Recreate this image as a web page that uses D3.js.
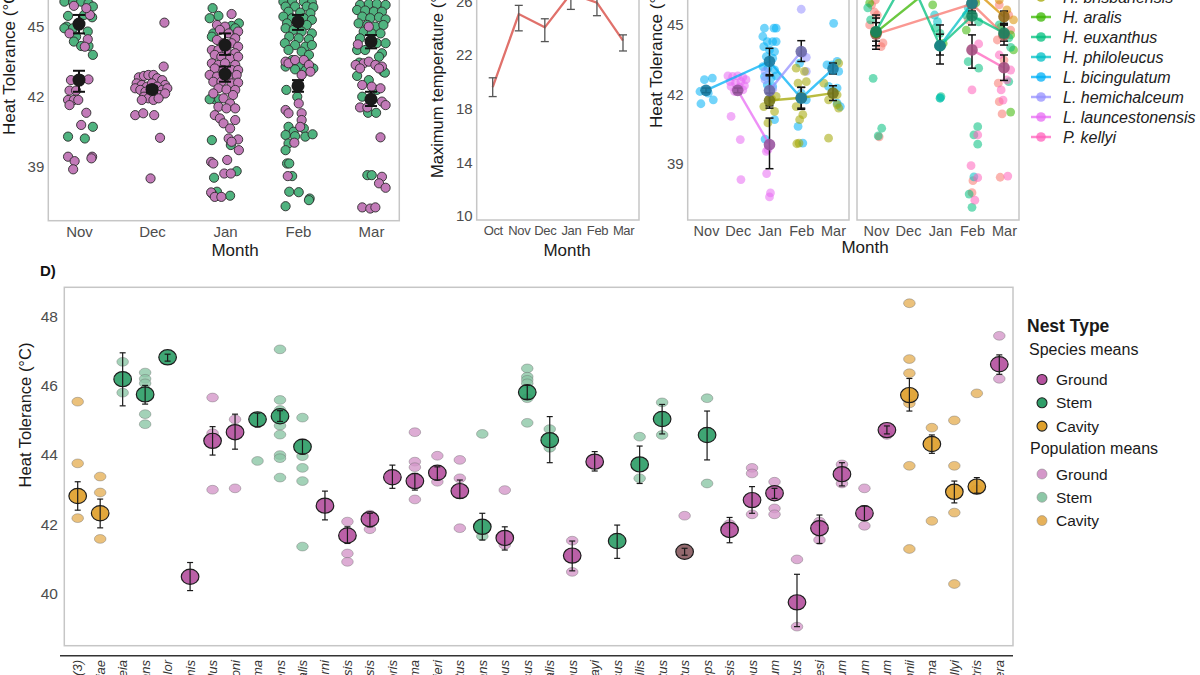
<!DOCTYPE html>
<html>
<head>
<meta charset="utf-8">
<title>Bee heat tolerance</title>
<script src="https://cdn.jsdelivr.net/npm/d3@7"></script>
<style>
  body { margin: 0; background: #fff; }
  svg { display: block; font-family: "Liberation Sans", Arial, sans-serif; }
  .tick text { fill: #4d4d4d; }
</style>
</head>
<body>
<svg id="fig" width="1200" height="675"></svg>
<script>
// ---------- Panel A : heat tolerance by month, stem vs ground ----------
const aMonths = ["Nov", "Dec", "Jan", "Feb", "Mar"];
// [jitter (fraction of month step), heat tolerance]
const stemNov = [[-0.20,46.07],[-0.08,46.03],[0.03,46.07],[0.13,46.0],[0.19,45.86],[-0.15,45.46],[0.07,45.5],[0.18,45.4],[-0.17,45.0],[-0.2,44.93],[-0.08,44.93],[0.12,44.79],[-0.04,44.57],[-0.07,44.36],[0.03,44.17],[0.13,44.17],[0.19,43.79],[-0.15,40.29],[0.08,40.21],[0.19,40.71]];
const stemJan = [[-0.17,45.79],[-0.09,45.46],[-0.21,45.36],[0.19,45.14],[0.09,45.03],[0.14,44.93],[-0.16,44.71],[-0.18,44.57],[0.14,44.64],[-0.14,41.89],[-0.08,41.89],[-0.21,41.89],[-0.18,40.14],[0.08,39.93],[-0.15,38.53],[-0.11,37.93],[-0.18,37.86],[0.07,37.76],[0.16,38.81]];
const stemFeb = [[-0.2,46.07],[-0.08,46.1],[0.08,46.07],[0.19,46.03],[-0.17,45.86],[-0.04,45.86],[0.12,45.86],[0.21,45.83],[-0.13,45.64],[0.03,45.6],[0.17,45.57],[-0.2,45.43],[-0.08,45.36],[0.08,45.36],[0.19,45.29],[-0.15,45.14],[0.12,45.07],[-0.17,44.93],[-0.06,44.86],[0.05,44.79],[0.19,44.71],[-0.12,44.57],[0.01,44.5],[0.15,44.46],[-0.18,44.29],[-0.04,44.21],[0.1,44.14],[0.19,44.21],[-0.13,44.0],[0.05,43.93],[0.15,43.79],[-0.08,43.57],[0.01,43.36],[-0.17,43.29],[-0.04,43.17],[0.1,43.11],[0.21,43.21],[-0.16,42.29],[-0.01,42.0],[-0.13,40.71],[-0.06,40.5],[0.08,40.64],[-0.17,40.36],[-0.04,40.31],[0.1,40.29],[0.2,40.39],[-0.13,40.0],[-0.17,39.71],[-0.15,39.14],[-0.12,39.14],[-0.08,38.6],[-0.12,37.93],[0.01,37.91],[0.16,37.64],[0.15,37.57],[-0.17,37.31]];
const stemMar = [[-0.15,45.93],[-0.03,45.97],[0.08,45.97],[0.2,45.93],[-0.19,45.71],[-0.08,45.69],[0.04,45.64],[0.15,45.64],[-0.12,45.43],[-0.01,45.36],[0.11,45.4],[0.2,45.31],[-0.17,45.14],[-0.05,45.07],[0.06,45.0],[0.17,45.07],[-0.1,44.79],[0.01,44.71],[0.13,44.71],[-0.15,44.5],[0.08,44.29],[0.2,44.29],[-0.19,44.0],[-0.08,44.0],[0.15,43.86],[-0.16,43.46],[0.11,43.71],[0.17,43.07],[-0.03,42.71],[0.08,42.29],[-0.12,42.0],[-0.19,42.89],[0.19,43.03],[-0.04,41.31],[0.07,41.31],[-0.05,38.64],[0.01,38.64]];
const groundNov = [[-0.13,44.71],[0.12,44.46],[0.08,44.14],[0.15,45.5],[-0.07,45.89],[0.10,45.79],[-0.11,42.71],[0.03,42.74],[0.13,42.74],[-0.13,42.26],[-0.04,42.26],[-0.15,41.86],[-0.07,41.86],[-0.13,41.64],[-0.01,41.86],[0.10,41.31],[0.03,40.79],[-0.15,39.43],[-0.06,39.24],[-0.08,38.89],[0.18,39.43],[0.17,39.36]];
const groundDec = [[-0.18,42.83],[-0.11,42.89],[-0.05,42.93],[0.02,42.93],[0.07,42.79],[0.14,42.71],[0.18,42.5],[-0.21,42.57],[-0.14,42.5],[-0.07,42.43],[0,42.57],[0.07,42.43],[0.14,42.29],[0.21,42.36],[-0.23,42.36],[-0.16,42.29],[-0.09,42.21],[-0.02,42.14],[0.05,42.14],[0.11,42.07],[0.18,42.14],[-0.11,42.0],[-0.05,41.93],[0.02,41.86],[0.09,41.93],[-0.14,41.86],[0.16,43.29],[-0.23,41.21],[-0.12,41.29],[0.03,41.21],[0.11,40.24],[-0.02,38.5],[0.17,45.17]];
const groundJan = [[0.09,45.54],[-0.11,45.07],[0,45.0],[-0.07,44.86],[0.05,44.71],[0.18,44.79],[0.14,44.5],[-0.11,44.43],[-0.02,44.29],[0.09,44.29],[0.18,44.14],[-0.18,44.0],[-0.09,44.0],[0.02,44.0],[0.14,43.86],[-0.14,43.79],[-0.05,43.71],[0.07,43.64],[0.18,43.71],[-0.18,43.43],[-0.09,43.36],[0,43.43],[0.14,43.36],[-0.14,43.21],[-0.02,43.14],[0.09,43.14],[0.18,43.14],[-0.21,42.93],[-0.11,42.86],[0.05,42.86],[0.16,42.93],[-0.16,42.64],[-0.05,42.64],[0.09,42.57],[0.18,42.6],[-0.09,42.36],[0.02,42.31],[0.14,42.29],[-0.16,42.14],[0.11,42.07],[-0.02,41.93],[0.07,41.71],[-0.09,41.57],[0.02,41.5],[0.14,41.5],[-0.14,41.21],[-0.07,41.07],[0.14,41.0],[-0.02,40.86],[0.07,40.64],[0.05,40.21],[0.18,40.17],[0.09,40.07],[0.19,39.71],[-0.19,39.21],[-0.16,39.14],[0.03,39.29],[-0.01,38.71],[0.08,38.71],[-0.19,37.9],[-0.14,37.71],[-0.05,37.71]];
const groundFeb = [[-0.17,43.5],[-0.13,43.43],[-0.04,43.57],[0.08,43.57],[0.15,43.36],[0.17,43.07],[0.05,42.93],[-0.17,41.43],[-0.13,41.29],[0.01,41.71],[0.05,41.29],[0.05,41.0],[0.03,40.71],[-0.05,40.03],[-0.14,38.6]];
const groundMar = [[-0.03,45.0],[-0.18,44.24],[-0.1,43.43],[-0.03,43.5],[0.06,43.36],[0.15,43.29],[-0.21,43.36],[-0.15,43.21],[0.11,43.21],[-0.12,42.5],[0.01,42.43],[0.13,42.36],[0.15,41.79],[-0.15,41.54],[-0.05,41.54],[0.2,41.64],[0.13,40.26],[0.15,38.57],[0.11,38.29],[0.2,38.1],[-0.12,37.26],[-0.01,37.21],[0.06,37.26]];
const aStemMean = [45.11, null, 44.21, 45.21, 44.36];
const aStemLo   = [44.71, null, 43.79, 44.86, 44.07];
const aStemHi   = [45.50, null, 44.71, 45.50, 44.64];
const aGroundMean = [42.71, 42.31, 42.97, 42.46, 41.89];
const aGroundLo   = [42.21, 42.18, 42.64, 42.21, 41.60];
const aGroundHi   = [43.11, 42.44, 43.29, 42.71, 42.21];
const aTicks = [39, 42, 45];

// ---------- Panel B : maximum temperature ----------
const bMonths = ["Oct", "Nov", "Dec", "Jan", "Feb", "Mar"];
const bTemp = [19.6, 25.05, 24.06, 26.58, 25.9, 23.07];
const bLo   = [18.9, 23.8, 23.0, 25.4, 24.93, 22.3];
const bHi   = [20.3, 25.7, 24.7, 27.7, 26.9, 23.5];
const bTicks = [10, 14, 18, 22, 26];

// ---------- Panel C : species by month ----------
const cSpecies = ["E. robusta", "H. alcyoneus", "H. brisbanensis", "H. aralis", "H. euxanthus", "H. philoleucus",
                  "L. bicingulatum", "L. hemichalceum", "L. launcestonensis", "P. kellyi"];
const cColors = ["#F8766D", "#D89000", "#A3A500", "#39B600", "#00BF7D", "#00BFC4", "#00B0F6", "#9590FF", "#E76BF3", "#FF62BC"];
const cFacet = [1, 1, 0, 1, 1, 1, 0, 0, 0, 1];
// [species, month, mean, lower, upper]
const cMeans = [
  ["H. brisbanensis","Jan",41.73,41.4,42.05],["H. brisbanensis","Feb",41.85,41.35,42.3],["H. brisbanensis","Mar",42.05,41.73,42.37],
  ["L. bicingulatum","Nov",42.17,42.07,42.27],["L. bicingulatum","Jan",43.42,42.85,43.99],["L. bicingulatum","Feb",41.83,41.4,42.3],["L. bicingulatum","Mar",43.1,42.88,43.35],
  ["L. hemichalceum","Jan",42.16,41.5,42.8],["L. hemichalceum","Feb",43.85,43.42,44.32],
  ["L. launcestonensis","Dec",42.17,42.07,42.27],["L. launcestonensis","Jan",39.82,38.78,40.97],
  ["E. robusta","Nov",44.6,43.95,45.43],["E. robusta","Feb",45.91,45.5,46.3],["E. robusta","Mar",44.57,44.13,45.0],
  ["H. alcyoneus","Feb",46.6,46.3,46.9],["H. alcyoneus","Mar",45.36,45.07,45.6],
  ["H. aralis","Nov",44.68,44.3,45.1],["H. aralis","Jan",46.9,46.5,47.3],
  ["H. euxanthus","Nov",44.72,44.1,45.3],["H. euxanthus","Dec",47.2,46.9,47.5],["H. euxanthus","Jan",44.1,43.31,45.0],["H. euxanthus","Feb",45.39,45.0,45.75],["H. euxanthus","Mar",44.65,44.3,45.0],
  ["H. philoleucus","Jan",44.1,43.7,44.6],["H. philoleucus","Feb",45.94,45.6,46.3],
  ["P. kellyi","Feb",43.92,43.13,44.57],["P. kellyi","Mar",43.15,42.6,43.7]
];
// [species, month, jitter, value]
const cPoints = [
  ["L. bicingulatum","Nov",-0.19,42.12],["L. bicingulatum","Nov",-0.05,42.63],["L. bicingulatum","Nov",0.2,42.7],["L. bicingulatum","Nov",0.23,41.76],["L. bicingulatum","Nov",-0.16,41.59],["L. bicingulatum","Nov",0.07,42.05],
  ["L. bicingulatum","Jan",-0.16,44.86],["L. bicingulatum","Jan",0.14,44.86],["L. bicingulatum","Jan",0.21,44.86],["L. bicingulatum","Jan",-0.21,44.5],["L. bicingulatum","Jan",-0.07,44.28],["L. bicingulatum","Jan",0.1,44.28],["L. bicingulatum","Jan",0.21,44.28],["L. bicingulatum","Jan",-0.18,44.06],["L. bicingulatum","Jan",0,43.92],["L. bicingulatum","Jan",0.16,43.85],["L. bicingulatum","Jan",-0.1,43.63],["L. bicingulatum","Jan",0.1,43.56],["L. bicingulatum","Jan",-0.21,43.2],["L. bicingulatum","Jan",-0.05,43.13],["L. bicingulatum","Jan",0.16,43.06],["L. bicingulatum","Jan",-0.16,42.77],["L. bicingulatum","Jan",0.05,42.7],["L. bicingulatum","Jan",0.21,42.8],["L. bicingulatum","Jan",-0.07,42.41],["L. bicingulatum","Jan",0.1,42.34],["L. bicingulatum","Jan",0.16,40.9],["L. bicingulatum","Jan",-0.14,40.06],
  ["L. bicingulatum","Feb",-0.05,43.35],["L. bicingulatum","Feb",-0.1,40.61],["L. bicingulatum","Feb",0.05,39.89],["L. bicingulatum","Feb",0,42.05],["L. bicingulatum","Feb",0.16,41.76],
  ["L. bicingulatum","Mar",0.02,45.07],["L. bicingulatum","Mar",-0.19,43.27],["L. bicingulatum","Mar",-0.03,43.27],["L. bicingulatum","Mar",0.13,43.42],["L. bicingulatum","Mar",0.18,42.99],["L. bicingulatum","Mar",-0.14,42.34],["L. bicingulatum","Mar",0.13,42.27],["L. bicingulatum","Mar",0.13,41.62],["L. bicingulatum","Mar",0.23,41.47],
  ["L. launcestonensis","Dec",-0.31,42.8],["L. launcestonensis","Dec",-0.16,42.77],["L. launcestonensis","Dec",0,42.8],["L. launcestonensis","Dec",0.16,42.74],["L. launcestonensis","Dec",-0.24,42.55],["L. launcestonensis","Dec",-0.07,42.48],["L. launcestonensis","Dec",0.1,42.55],["L. launcestonensis","Dec",0.26,42.63],["L. launcestonensis","Dec",-0.21,42.34],["L. launcestonensis","Dec",0.05,42.31],["L. launcestonensis","Dec",0.21,42.37],["L. launcestonensis","Dec",-0.1,42.12],["L. launcestonensis","Dec",0.16,42.19],["L. launcestonensis","Dec",-0.21,41.04],["L. launcestonensis","Dec",0.08,40.04],["L. launcestonensis","Dec",0.1,38.31],
  ["L. launcestonensis","Jan",-0.09,38.57],["L. launcestonensis","Jan",-0.05,39.6],["L. launcestonensis","Jan",0.03,37.73],["L. launcestonensis","Jan",0,37.56],["L. launcestonensis","Jan",-0.1,39.53],
  ["L. hemichalceum","Jan",-0.14,42.99],["L. hemichalceum","Jan",-0.14,42.63],["L. hemichalceum","Jan",0.1,42.22],
  ["L. hemichalceum","Feb",0,45.68],["L. hemichalceum","Feb",0.16,43.6],["L. hemichalceum","Feb",0.16,42.99],["L. hemichalceum","Feb",0.05,43.78],
  ["H. brisbanensis","Jan",-0.18,41.47],["H. brisbanensis","Jan",0.21,41.91],["H. brisbanensis","Jan",-0.05,40.76],["H. brisbanensis","Jan",0.16,41.26],["H. brisbanensis","Jan",0.07,41.8],
  ["H. brisbanensis","Feb",-0.16,43.13],["H. brisbanensis","Feb",0.1,42.99],["H. brisbanensis","Feb",-0.1,42.48],["H. brisbanensis","Feb",0.16,42.55],["H. brisbanensis","Feb",-0.16,41.47],["H. brisbanensis","Feb",0.05,41.12],["H. brisbanensis","Feb",-0.05,40.9],["H. brisbanensis","Feb",-0.07,39.89],["H. brisbanensis","Feb",-0.14,39.86],
  ["H. brisbanensis","Mar",0.18,43.35],["H. brisbanensis","Mar",-0.29,42.48],["H. brisbanensis","Mar",0.13,41.98],["H. brisbanensis","Mar",-0.14,41.76],["H. brisbanensis","Mar",0.13,41.55],["H. brisbanensis","Mar",0.18,41.4],["H. brisbanensis","Mar",-0.14,40.1],
  ["E. robusta","Nov",-0.02,46.08],["E. robusta","Nov",-0.14,45.87],["E. robusta","Nov",-0.05,45.56],["E. robusta","Nov",-0.2,45.0],["E. robusta","Nov",0.04,45.43],["E. robusta","Nov",0.22,44.22],["E. robusta","Nov",0.16,44.06],["E. robusta","Nov",0.1,40.16],
  ["E. robusta","Feb",-0.03,45.65],["E. robusta","Feb",-0.12,45.22],["E. robusta","Feb",0.12,46.08],["E. robusta","Feb",0.03,38.26],["E. robusta","Feb",0,37.74],
  ["E. robusta","Mar",-0.18,42.48],["E. robusta","Mar",-0.15,41.68],["E. robusta","Mar",-0.06,41.15],["E. robusta","Mar",-0.12,38.41],["E. robusta","Mar",-0.15,45.87],["E. robusta","Mar",0.15,45.43],["E. robusta","Mar",-0.21,44.35],["E. robusta","Mar",0.21,44.78],["E. robusta","Mar",0,43.48],
  ["H. alcyoneus","Mar",-0.15,46.08],["H. alcyoneus","Mar",0.09,45.65],["H. alcyoneus","Mar",0.3,45.22],["H. alcyoneus","Mar",-0.1,44.9],
  ["H. aralis","Nov",-0.2,45.95],["H. aralis","Jan",-0.23,45.87],["H. aralis","Jan",0.1,44.2],["H. aralis","Feb",0.12,45.95],["H. aralis","Feb",-0.18,44.78],["H. aralis","Mar",0.21,44.57],["H. aralis","Mar",0.3,43.92],["H. aralis","Mar",0.21,41.23],
  ["H. euxanthus","Nov",-0.09,42.69],["H. euxanthus","Nov",0.18,40.53],["H. euxanthus","Nov",0.07,40.2],["H. euxanthus","Nov",-0.17,45.22],["H. euxanthus","Nov",-0.26,45.74],
  ["H. euxanthus","Jan",-0.14,44.87],["H. euxanthus","Jan",0,44.64],["H. euxanthus","Jan",0,41.83],["H. euxanthus","Jan",0.03,41.9],
  ["H. euxanthus","Feb",-0.12,43.41],["H. euxanthus","Feb",0.21,43.13],["H. euxanthus","Feb",0.18,40.6],["H. euxanthus","Feb",0.06,40.24],["H. euxanthus","Feb",0.18,39.84],["H. euxanthus","Feb",-0.09,37.68],["H. euxanthus","Feb",0,37.11],["H. euxanthus","Feb",-0.18,45.43],["H. euxanthus","Feb",0.21,45.13],
  ["H. euxanthus","Mar",0.21,44.03],["H. euxanthus","Mar",0.15,42.55],["H. euxanthus","Mar",-0.15,45.0],["H. euxanthus","Mar",0.15,44.44],
  ["H. philoleucus","Jan",-0.17,45.43],["H. philoleucus","Jan",-0.08,45.14],["H. philoleucus","Jan",0.01,41.84],["H. philoleucus","Feb",0.06,38.43],["H. philoleucus","Feb",-0.12,45.74],
  ["P. kellyi","Feb",0,42.19],["P. kellyi","Feb",0.18,40.24],["P. kellyi","Feb",-0.03,38.91],["P. kellyi","Feb",0.18,38.39],["P. kellyi","Feb",0.09,37.42],["P. kellyi","Feb",0.21,44.18],
  ["P. kellyi","Mar",-0.03,41.75],["P. kellyi","Mar",0.12,38.46],["P. kellyi","Mar",-0.15,43.7],["P. kellyi","Mar",0.21,43.05],["P. kellyi","Mar",0.09,42.62],["P. kellyi","Mar",-0.09,42.19]
];
const cTicks = [39, 42, 45];

// ---------- Panel D : species means by nest type ----------
const dNames = ["Megachile sp. (3)","Megachile macleayiae","Braunsapis plebeia","Hylaeus elegans","Exoneura bicolor","Amegilla bombiformis",
  "Leioproctus bellus","Euhesma morrisoni","Hylaeus chlorosoma","Hylaeus albonitens","Hylaeus aralis","Lasioglossum horni",
  "Lasioglossum launcestonensis","Lasioglossum mackayensis","Leioproctus ruficoris","Euryglossina hypochroma","Homalictus dampieri","Leioproctus maculatus",
  "Hylaeus infuscans","Lasioglossum erythrous","Hylaeus nubilosus","Hylaeus lateralis","Homalictus urbanus","Leioproctus mackayi",
  "Hylaeus crassus","Exoneura gracilis","Hylaeus sanguinipictus","Leioproctus punctatus","Hylaeus ruficeps","Lasioglossum hobartensis",
  "Lasioglossum gibbous","Lasioglossum bicingulatum","Leioproctus carinatus","Lasioglossum gilesi","Lasioglossum hemichalceum","Lasioglossum cognatum",
  "Lasioglossum lanarium","Megachile fultonii","Megachile chrysoma","Megachile kellyi","Megachile lucidiventris","Nomia aurantifera"];
const dNest = ["Cavity","Cavity","Stem","Stem","Stem","Ground","Ground","Ground","Stem","Stem","Stem","Ground",
  "Ground","Ground","Ground","Ground","Ground","Ground","Stem","Ground","Stem","Stem","Ground","Ground",
  "Stem","Stem","Stem","Ground","Stem","Ground","Ground","Ground","Ground","Ground","Ground","Ground",
  "Ground","Cavity","Cavity","Cavity","Cavity","Ground"];
const dMean = [42.81,42.31,46.18,45.74,46.81,40.48,44.40,44.65,45.02,45.11,44.23,42.53,41.67,42.14,43.35,43.24,43.48,42.95,41.92,41.60,45.80,44.42,41.09,43.80,41.51,43.72,45.03,41.20,44.57,41.83,42.69,42.89,39.74,41.88,43.44,42.31,44.71,45.72,44.31,42.93,43.08,46.61];
const dLo = [42.40,41.89,45.41,45.46,46.70,40.08,43.99,44.16,44.80,44.96,44.02,42.12,41.44,41.92,43.03,42.98,43.27,42.74,41.54,41.25,45.60,43.77,40.65,43.53,41.01,43.17,44.60,41.10,43.85,41.46,42.31,42.74,39.04,41.44,43.10,42.10,44.60,45.26,44.04,42.61,42.89,46.32];
const dHi = [43.22,42.72,46.94,46.00,46.90,40.89,44.81,45.17,45.20,45.27,44.44,42.95,41.92,42.31,43.70,43.46,43.65,43.27,42.31,41.92,46.00,45.10,41.51,44.09,41.97,44.25,45.45,41.30,45.26,42.19,43.08,43.03,40.55,42.26,43.77,42.52,44.83,46.20,44.57,43.24,43.34,46.88];
const dPops = [[45.53,43.75,42.17],[43.37,42.91,41.57],[46.68,45.79],[46.37,46.19,46.06,45.17,44.88],[],[],
  [45.65,44.62,42.99],[45.02,43.03],[43.82],[47.04,45.58,45.29,44.84,44.58,43.99,43.9,43.34],[45.07,43.96,43.62,43.24,41.35],[],
  [42.07,41.15,40.91],[42.27,41.85],[],[44.65,43.80,43.64,42.71],[43.97,43.22],[43.85,43.32,41.88],
  [44.60,41.65],[42.98,41.4],[46.49,46.25,46.16,46.06,45.63,44.92],[44.74,44.20],[41.52,40.62],[],
  [],[44.52,43.32],[45.51,44.57],[42.24],[45.63,43.17],[42.0],
  [43.62,43.46,42.28],[43.22,42.45,42.28],[40.98,39.04],[42.07,41.54],[43.72,43.17],[43.03,41.95],
  [44.57],[48.37,46.76,46.35,45.48,43.68,41.28],[44.78,42.09],[44.99,43.68,42.33,40.27],[45.77,43.0],[47.43,46.19]];
const dTicks = [40, 42, 44, 46, 48];
const nestTypes = ["Ground", "Stem", "Cavity"];

// ---------- colours ----------
const aStemCol = "#4fb37f", aGroundCol = "#c27ab8";
const meanFill = {Ground: "#b5529f", Stem: "#2f9e68", Cavity: "#dfa02b"};
const popFill  = {Ground: "#d497c9", Stem: "#8cc7a6", Cavity: "#e6b15a"};
const frameCol = "#c6c6c6";

const svg = d3.select("#fig");
svg.append("rect").attr("width", 1200).attr("height", 675).attr("fill", "#fff");

function frame(g, x0, y0, x1, y1) {
  g.append("rect").attr("x", x0).attr("y", y0).attr("width", x1 - x0).attr("height", y1 - y0)
    .attr("fill", "none").attr("stroke", frameCol).attr("stroke-width", 1.5);
}
function leftAxis(g, y, ticks, x, size) {
  const ax = g.append("g").attr("transform", "translate(" + x + ",0)")
    .call(d3.axisLeft(y).tickValues(ticks).tickSize(0).tickPadding(4));
  ax.select(".domain").remove();
  ax.selectAll("text").attr("font-size", size).attr("font-family", "Liberation Sans, Arial, sans-serif");
}
function bottomAxis(g, x, yPos, size, spacing) {
  const ax = g.append("g").attr("transform", "translate(0," + yPos + ")")
    .call(d3.axisBottom(x).tickSize(0).tickPadding(6));
  ax.select(".domain").remove();
  ax.selectAll("text").attr("font-size", size).attr("font-family", "Liberation Sans, Arial, sans-serif")
    .attr("letter-spacing", spacing || 0);
}
function yTitle(g, label, x, yStart, size) {
  g.append("text").attr("transform", "translate(" + x + "," + yStart + ") rotate(-90)")
    .attr("font-size", size).attr("fill", "#1a1a1a").text(label);
}
function errBars(g, rows, xf, yf, lo, hi, cap, col, w) {
  const eb = g.append("g").attr("stroke", col).attr("stroke-width", w).attr("fill", "none");
  rows.forEach(r => {
    const x = xf(r);
    eb.append("line").attr("x1", x).attr("x2", x).attr("y1", yf(lo(r))).attr("y2", yf(hi(r)));
    eb.append("line").attr("x1", x - cap).attr("x2", x + cap).attr("y1", yf(lo(r))).attr("y2", yf(lo(r)));
    eb.append("line").attr("x1", x - cap).attr("x2", x + cap).attr("y1", yf(hi(r))).attr("y2", yf(hi(r)));
  });
}

// ===== Panel A =====
const gA = svg.append("g");
const xA = d3.scalePoint().domain(aMonths).range([79, 371]);
const yA = d3.scaleLinear().domain([36.69, 46.14]).range([220.7, 0]);
const stepA = xA.step();
frame(gA, 48.3, -20, 399.3, 220.7);
leftAxis(gA, yA, aTicks, 48.3, 15);
bottomAxis(gA, xA, 220.7, 15);
gA.append("text").attr("x", 235).attr("y", 256).attr("text-anchor", "middle").attr("font-size", 17).attr("fill", "#1a1a1a").text("Month");
yTitle(gA, "Heat Tolerance (°C)", 15, 135, 17);

const aSets = [
  ["Nov", stemNov, aStemCol], ["Jan", stemJan, aStemCol], ["Feb", stemFeb, aStemCol], ["Mar", stemMar, aStemCol],
  ["Nov", groundNov, aGroundCol], ["Dec", groundDec, aGroundCol], ["Jan", groundJan, aGroundCol],
  ["Feb", groundFeb, aGroundCol], ["Mar", groundMar, aGroundCol]
];
aSets.forEach(([m, pts, col]) => {
  gA.append("g").selectAll("circle").data(pts).join("circle")
    .attr("cx", d => xA(m) + d[0] * stepA)
    .attr("cy", d => yA(d[1]))
    .attr("r", 4.6)
    .attr("fill", col).attr("stroke", "#2b2b2b").attr("stroke-width", 0.9);
});
const aMeanRows = [];
aMonths.forEach((m, i) => {
  if (aStemMean[i] != null) aMeanRows.push([m, aStemMean[i], aStemLo[i], aStemHi[i]]);
  aMeanRows.push([m, aGroundMean[i], aGroundLo[i], aGroundHi[i]]);
});
errBars(gA, aMeanRows, r => xA(r[0]), yA, r => r[2], r => r[3], 6, "#111", 2);
gA.append("g").selectAll("circle").data(aMeanRows).join("circle")
  .attr("cx", d => xA(d[0])).attr("cy", d => yA(d[1])).attr("r", 6.5).attr("fill", "#1a1a1a");

// ===== Panel B =====
const gB = svg.append("g");
const xB = d3.scalePoint().domain(bMonths).range([492.7, 623]);
const yB = d3.scaleLinear().domain([9.7, 26.1]).range([220, 0]);
frame(gB, 476.7, -20, 639, 220);
leftAxis(gB, yB, bTicks, 476.7, 15);
bottomAxis(gB, xB, 220, 13, -0.4);
gB.append("text").attr("x", 567).attr("y", 256).attr("text-anchor", "middle").attr("font-size", 17).attr("fill", "#1a1a1a").text("Month");
yTitle(gB, "Maximum temperature (°C)", 443, 178, 16.5);
const bRows = bMonths.map((m, i) => [m, bTemp[i], bLo[i], bHi[i]]);
gB.append("path").datum(bRows)
  .attr("d", d3.line().x(d => xB(d[0])).y(d => yB(d[1])))
  .attr("fill", "none").attr("stroke", "#e0716b").attr("stroke-width", 2.3);
errBars(gB, bRows, r => xB(r[0]), yB, r => r[2], r => r[3], 4, "#555", 1.3);

// ===== Panel C =====
const gC = svg.append("g");
const yC = d3.scaleLinear().domain([36.56, 46.08]).range([220, 0]);
const xCl = d3.scalePoint().domain(aMonths).range([706, 833]);
const xCr = d3.scalePoint().domain(aMonths).range([876, 1004]);
const xC = f => f === 0 ? xCl : xCr;
const stepC = xCl.step();
frame(gC, 687.7, -20, 849, 220);
frame(gC, 857, -20, 1019, 220);
leftAxis(gC, yC, cTicks, 687.7, 15);
bottomAxis(gC, xCl, 220, 14.5);
bottomAxis(gC, xCr, 220, 14.5);
gC.append("text").attr("x", 865).attr("y", 253).attr("text-anchor", "middle").attr("font-size", 17).attr("fill", "#1a1a1a").text("Month");
yTitle(gC, "Heat Tolerance (°C)", 662, 128, 17);

const spIdx = s => cSpecies.indexOf(s);
const gCm = gC.append("g");
gCm.append("g").selectAll("circle").data(cPoints).join("circle")
  .attr("cx", d => xC(cFacet[spIdx(d[0])])(d[1]) + d[2] * stepC)
  .attr("cy", d => yC(d[3]))
  .attr("r", 4.4)
  .attr("fill", d => cColors[spIdx(d[0])])
  .attr("fill-opacity", 0.55);
cSpecies.forEach((s, i) => {
  const rows = cMeans.filter(r => r[0] === s);
  if (rows.length > 1) {
    gCm.append("path").datum(rows)
      .attr("d", d3.line().x(d => xC(cFacet[i])(d[1])).y(d => yC(d[2])))
      .attr("fill", "none").attr("stroke", cColors[i]).attr("stroke-width", 2.4).attr("stroke-opacity", 0.75);
  }
});
errBars(gCm, cMeans, r => xC(cFacet[spIdx(r[0])])(r[1]), yC, r => r[3], r => r[4], 4, "#111", 1.5);
gCm.append("g").selectAll("circle").data(cMeans).join("circle")
  .attr("cx", d => xC(cFacet[spIdx(d[0])])(d[1]))
  .attr("cy", d => yC(d[2]))
  .attr("r", 5.8)
  .attr("fill", d => d3.interpolateRgb(cColors[spIdx(d[0])], "#3a3a3a")(0.45))
  .attr("fill-opacity", 0.9);

// legend C
const legC = svg.append("g");
cSpecies.forEach((s, i) => {
  const y = -43 + i * 20;
  legC.append("line").attr("x1", 1031).attr("x2", 1051).attr("y1", y).attr("y2", y)
    .attr("stroke", cColors[i]).attr("stroke-width", 2.5).attr("stroke-opacity", 0.75);
  legC.append("circle").attr("cx", 1041).attr("cy", y).attr("r", 4.8).attr("fill", cColors[i]).attr("fill-opacity", 0.75);
  legC.append("text").attr("x", 1063).attr("y", y + 6).attr("font-size", 16).attr("font-style", "italic")
    .attr("fill", "#222").text(s);
});

// ===== Panel D =====
const gD = svg.append("g");
const xD = d3.scalePoint().domain(dNames).range([77.7, 999.3]);
const yD = d3.scaleLinear().domain([38.49, 48.83]).range([645.7, 287.3]);
frame(gD, 64.3, 287.3, 1013, 645.7);
leftAxis(gD, yD, dTicks, 62, 15.5);
gD.append("text").attr("x", 40).attr("y", 276).attr("font-size", 15).attr("font-weight", "bold").attr("fill", "#111").text("D)");
gD.append("text").attr("transform", "translate(31,415) rotate(-90)").attr("text-anchor", "middle")
  .attr("font-size", 16.5).attr("fill", "#1a1a1a").text("Heat Tolerance (°C)");
gD.append("line").attr("x1", 60).attr("x2", 1013).attr("y1", 655.7).attr("y2", 655.7)
  .attr("stroke", "#333").attr("stroke-width", 1.6);
gD.append("g").selectAll("text").data(dNames).join("text")
  .attr("transform", d => "translate(" + (xD(d) + 4.5) + ",660) rotate(-90)")
  .attr("text-anchor", "end")
  .attr("font-family", "Liberation Sans Narrow, Liberation Sans, Arial, sans-serif")
  .attr("font-style", "italic").attr("font-size", 13).attr("fill", "#333")
  .text(d => d);

const popRows = [];
dNames.forEach((n, i) => dPops[i].forEach(v => popRows.push([n, dNest[i], v])));
gD.append("g").selectAll("ellipse").data(popRows).join("ellipse")
  .attr("cx", d => xD(d[0])).attr("cy", d => yD(d[2]))
  .attr("rx", 5.8).attr("ry", 4.4)
  .attr("fill", d => popFill[d[1]]).attr("fill-opacity", 0.8)
  .attr("stroke", "#6a6a6a").attr("stroke-opacity", 0.45).attr("stroke-width", 0.9);
const dRows = dNames.map((n, i) => [n, dNest[i], dMean[i], dLo[i], dHi[i]]);
gD.append("g").selectAll("ellipse").data(dRows).join("ellipse")
  .attr("cx", d => xD(d[0])).attr("cy", d => yD(d[2]))
  .attr("rx", 8.8).attr("ry", 7.6)
  .attr("fill", d => d[0] === "Leioproctus punctatus" ? "#8a5c62" : meanFill[d[1]])
  .attr("fill-opacity", 0.92)
  .attr("stroke", "#1d1d1d").attr("stroke-width", 1.2);
errBars(gD, dRows, r => xD(r[0]), yD, r => r[3], r => r[4], 3, "#1a1a1a", 1.2);

// legend D
const legD = svg.append("g").attr("fill", "#1a1a1a");
legD.append("text").attr("x", 1027).attr("y", 332).attr("font-size", 17.5).attr("font-weight", "bold").text("Nest Type");
legD.append("text").attr("x", 1029).attr("y", 355).attr("font-size", 16).text("Species means");
legD.append("text").attr("x", 1030).attr("y", 454).attr("font-size", 16).text("Population means");
nestTypes.forEach((t, i) => {
  const y1 = 379.5 + i * 23.3, y2 = 474 + i * 23.3;
  legD.append("circle").attr("cx", 1042).attr("cy", y1).attr("r", 5)
    .attr("fill", meanFill[t]).attr("stroke", "#222").attr("stroke-width", 1.1);
  legD.append("text").attr("x", 1056).attr("y", y1 + 5.5).attr("font-size", 15.5).text(t);
  legD.append("circle").attr("cx", 1042).attr("cy", y2).attr("r", 5)
    .attr("fill", popFill[t]).attr("stroke", "#888").attr("stroke-opacity", 0.6).attr("stroke-width", 0.9);
  legD.append("text").attr("x", 1056).attr("y", y2 + 5.5).attr("font-size", 15.5).text(t);
});
</script>
</body>
</html>
